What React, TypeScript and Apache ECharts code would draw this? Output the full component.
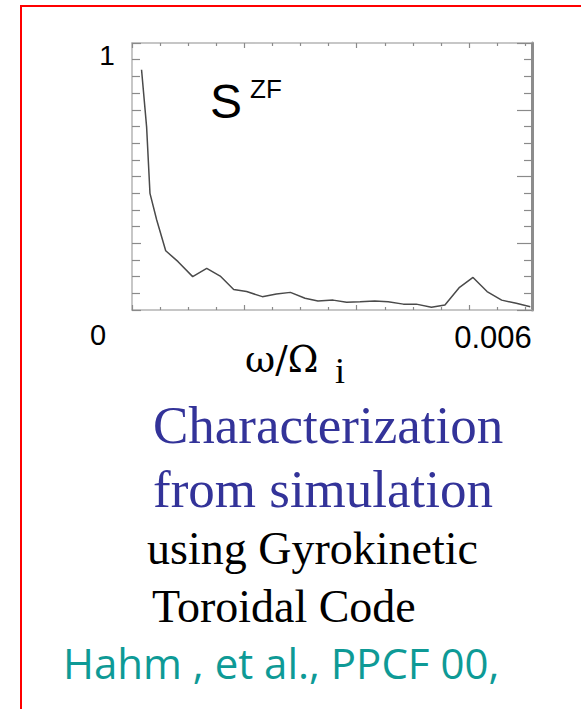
import React, { useEffect, useRef } from "react";
import * as echarts from "echarts";

// frequency omega/Omega_i
const freq = [
  0.00017, 0.00026, 0.00032, 0.00044, 0.0006, 0.00082, 0.00108, 0.00133, 0.00157,
  0.00181, 0.00204, 0.00232, 0.00257, 0.00282, 0.00308, 0.00331, 0.00358, 0.00382,
  0.00406, 0.00432, 0.00456, 0.00483, 0.00506, 0.00533, 0.00557, 0.00583, 0.00607,
  0.00632, 0.00658, 0.00684, 0.00709,
];
// normalized zonal flow spectrum S^ZF
const szf = [
  0.9, 0.686, 0.437, 0.337, 0.222, 0.181, 0.125, 0.156, 0.127,
  0.077, 0.069, 0.05, 0.06, 0.066, 0.044, 0.034, 0.037, 0.029,
  0.031, 0.034, 0.031, 0.022, 0.022, 0.01, 0.019, 0.085, 0.122,
  0.069, 0.037, 0.025, 0.012,
];
const xTickLabels = ["0", "0.006"];
const yTickLabels = ["1"];

const SANS = "'Liberation Sans', Arial, sans-serif";
const SERIF = "'Liberation Serif', 'Times New Roman', serif";
const GREEK = "'DejaVu Serif', 'Liberation Serif', serif";

export default function App() {
  const ref = useRef<HTMLDivElement>(null);
  useEffect(() => {
    if (!ref.current) return;
    const chart = echarts.init(ref.current, null, { renderer: "svg" });
    const frame = "#b4b4b4";
    const tickStyle = { color: "#8a8a8a", width: 1.2 };
    const xAxisBase = {
      type: "value",
      min: 0,
      max: 0.00712,
      interval: 0.002,
      axisLine: { show: true, onZero: false, lineStyle: { color: frame, width: 1.5 } },
      axisTick: { show: true, inside: true, length: 5, lineStyle: tickStyle },
      minorTick: { show: true, splitNumber: 4, length: 3, lineStyle: tickStyle },
      axisLabel: { show: false },
      splitLine: { show: false },
      minorSplitLine: { show: false },
    };
    const yAxisBase = {
      type: "value",
      min: 0,
      max: 1,
      interval: 0.25,
      axisLine: { show: true, onZero: false, lineStyle: { color: frame, width: 1.5 } },
      axisTick: { show: true, inside: true, length: 9, lineStyle: tickStyle },
      minorTick: { show: true, splitNumber: 4, length: 8, lineStyle: tickStyle },
      axisLabel: { show: false },
      splitLine: { show: false },
      minorSplitLine: { show: false },
    };
    const txt = (text: string, x: number, y: number, size: number, family: string, fill: string, align = "left") => ({
      type: "text",
      x,
      y,
      style: {
        text,
        fontSize: size,
        fontFamily: family,
        fill,
        textAlign: align,
        textVerticalAlign: "middle",
      },
    });
    chart.setOption({
      animation: false,
      backgroundColor: "#ffffff",
      grid: { left: 132, top: 43, width: 400, height: 267 },
      xAxis: [
        { ...xAxisBase, position: "bottom" },
        { ...xAxisBase, position: "top" },
      ],
      yAxis: [
        { ...yAxisBase, position: "left" },
        {
          ...yAxisBase,
          position: "right",
          axisLine: { show: true, onZero: false, lineStyle: { color: "#8c8c8c", width: 3 } },
          axisTick: { show: true, inside: true, length: 15, lineStyle: tickStyle },
        },
      ],
      series: [
        {
          type: "line",
          xAxisIndex: 0,
          yAxisIndex: 0,
          data: freq.map((f, i) => [f, szf[i]]),
          showSymbol: false,
          lineStyle: { color: "#4a4a4a", width: 1.5 },
        },
      ],
      graphic: [
        {
          type: "rect",
          shape: { x: 21, y: 6, width: 620, height: 800 },
          style: { fill: "none", stroke: "#ff0000", lineWidth: 2 },
        },
        txt(yTickLabels[0], 107, 55, 28, SANS, "#000", "center"),
        txt(xTickLabels[0], 98, 335, 29, SANS, "#000", "center"),
        txt(xTickLabels[1], 493, 337, 31, SANS, "#000", "center"),
        txt("S", 210, 101, 48, SANS, "#000"),
        txt("ZF", 250, 89, 26, SANS, "#000"),
        txt("ω/Ω", 245, 359, 37, GREEK, "#000"),
        txt("i", 335, 371, 36, SERIF, "#000"),
        txt("Characterization", 153, 425, 53, SERIF, "#333399"),
        txt("from simulation", 153, 489, 53, SERIF, "#333399"),
        txt("using Gyrokinetic", 147, 548, 46, SERIF, "#000"),
        txt("Toroidal Code", 152, 606, 46, SERIF, "#000"),
        txt("Hahm , et al., PPCF 00,", 63, 662, 42, "'Open Sans', 'Noto Sans', sans-serif", "#0e9a96"),
      ],
    });
    return () => chart.dispose();
  }, []);
  return (
    <div
      ref={ref}
      style={{ position: "absolute", left: 0, top: 0, width: 581, height: 709, background: "#fff" }}
    />
  );
}
